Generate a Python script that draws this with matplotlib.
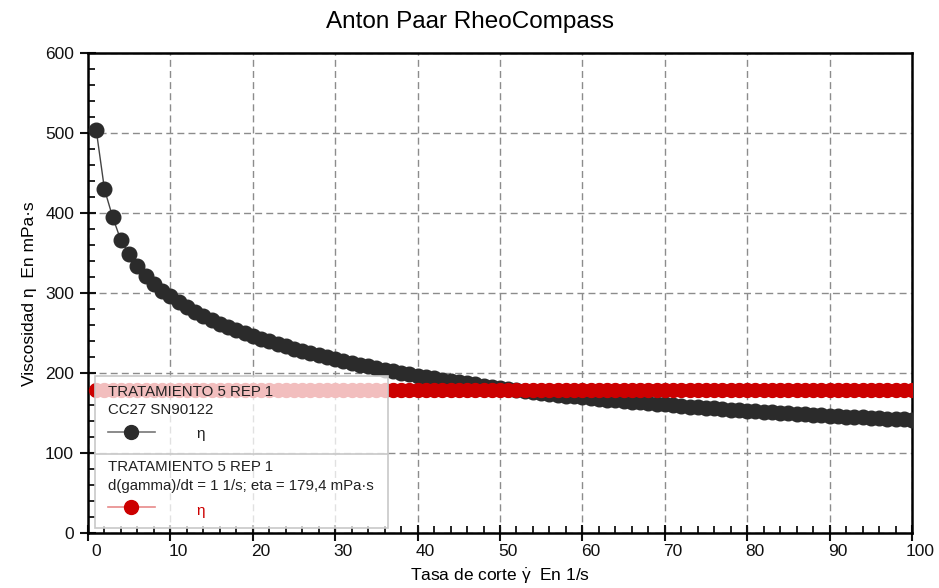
import numpy as np
import matplotlib
matplotlib.use("Agg")
from matplotlib import pyplot as plt
from matplotlib.patches import Rectangle
from matplotlib.transforms import ScaledTranslation
from matplotlib.ticker import MultipleLocator

plt.rcParams['font.family'] = ['Liberation Sans', 'DejaVu Sans']
plt.rcParams['mathtext.fontset'] = 'custom'
plt.rcParams['mathtext.rm'] = 'Liberation Sans'
plt.rcParams['mathtext.it'] = 'Liberation Sans:italic'

# shear rate sweep, 1 point per 1/s
shear_rate = list(range(1, 101))

# viscosity of the sweep (mPa·s)
eta_sweep = [
    504, 430, 395, 366, 349, 334, 321, 311, 303, 297,
    289.5, 282.9, 276.9, 271.5, 266.5, 262.0, 257.7, 253.7, 249.9, 247.0,
    243.3, 239.8, 236.6, 233.5, 230.6, 227.8, 225.2, 222.7, 220.3, 218.0,
    215.5, 213.1, 210.8, 208.6, 206.5, 204.5, 202.5, 200.6, 198.8, 197.0,
    195.3, 193.6, 192.0, 190.4, 188.9, 187.5, 186.0, 184.7, 183.3, 182.0,
    180.7, 179.3, 178.1, 176.8, 175.6, 174.4, 173.3, 172.2, 171.1, 170.0,
    169.0, 168.0, 167.1, 166.2, 165.3, 164.4, 163.5, 162.7, 161.8, 161.0,
    160.1, 159.3, 158.4, 157.6, 156.8, 156.0, 155.2, 154.5, 153.7, 153.0,
    152.4, 151.7, 151.1, 150.5, 149.9, 149.3, 148.7, 148.1, 147.6, 147.0,
    146.5, 145.9, 145.4, 144.9, 144.4, 143.9, 143.4, 142.9, 142.5, 142.0,
]

# single-point result at d(gamma)/dt = 1 1/s
eta_fixed = 179.4
eta_const = [eta_fixed] * len(shear_rate)

legend_rows = ["TRATAMIENTO 5 REP 1", "CC27 SN90122",
               "TRATAMIENTO 5 REP 1",
               "d(gamma)/dt = 1 1/s; eta = 179,4 mPa·s"]

BLACK = '#2b2b2b'
RED = '#cc0000'

fig = plt.figure(figsize=(9.39, 5.88), dpi=100)
ax = fig.add_axes([88/939, (588-533.3)/588, 824/939, 480/588])

ax.plot(shear_rate, eta_sweep, '-', color='#444444', lw=1, marker='o',
        ms=10.5, mfc=BLACK, mec=BLACK, zorder=3)
ax.plot(shear_rate, eta_const, '-', color=RED, lw=1, marker='o',
        ms=10, mfc=RED, mec=RED, zorder=4)

ax.set_xlim(0, 100)
ax.set_ylim(0, 600)
ax.xaxis.set_major_locator(MultipleLocator(10))
ax.xaxis.set_minor_locator(MultipleLocator(2))
ax.yaxis.set_major_locator(MultipleLocator(100))
ax.yaxis.set_minor_locator(MultipleLocator(20))
ax.tick_params(which='major', direction='inout', length=12, width=1.5,
               labelsize=12.5, colors='#111111')
ax.tick_params(which='minor', direction='in', length=5, width=1.2)
ax.tick_params(axis='x', pad=2)
ax.tick_params(axis='y', pad=4)
for lab in ax.get_xticklabels():
    lab.set_transform(lab.get_transform() +
                      ScaledTranslation(8/100, 0, fig.dpi_scale_trans))
for sp in ax.spines.values():
    sp.set_linewidth(1.8)
    sp.set_color('black')

ax.grid(True, which='major', color='#8c8c8c', ls=(0, (5, 3)), lw=1)
ax.set_axisbelow(True)

ax.set_xlabel(r"Tasa de corte $\dot{\mathrm{\gamma}}$  En 1/s", fontsize=12.5,
              labelpad=5)
ax.set_ylabel("Viscosidad η  En mPa·s", fontsize=12.5, labelpad=6)
fig.suptitle("Anton Paar RheoCompass", fontsize=17.5, y=0.982)

# legend panel drawn by hand
def fx(px):
    return (px - 88) / 824

def fy(py):
    return (533.3 - py) / 480

tr = ax.transAxes
ax.add_patch(Rectangle((fx(95), fy(528)), fx(388) - fx(95), fy(376) - fy(528),
                       transform=tr, facecolor=(1, 1, 1, 0.75),
                       edgecolor='#c8c8c8', lw=1.2, zorder=5))
ax.plot([fx(95), fx(388)], [fy(454), fy(454)], color='#c8c8c8', lw=1.2,
        transform=tr, zorder=6)

txt = dict(transform=tr, fontsize=10.8, color='#222222', va='center',
           ha='left', zorder=7)
ax.text(fx(108), fy(392), legend_rows[0], **txt)
ax.text(fx(108), fy(410), legend_rows[1], **txt)
ax.text(fx(108), fy(467), legend_rows[2], **txt)
ax.text(fx(108), fy(486), legend_rows[3], **txt)

ax.plot([fx(108), fx(155)], [fy(432), fy(432)], color='#777777', lw=1.2,
        transform=tr, zorder=7)
ax.plot([fx(131)], [fy(432)], 'o', ms=10, color=BLACK, transform=tr,
        zorder=8)
ax.text(fx(196), fy(434), "η", transform=tr, fontsize=11, color='#222222',
        va='center', ha='left', zorder=7)

ax.plot([fx(108), fx(155)], [fy(507), fy(507)], color='#e88a8a', lw=1.2,
        transform=tr, zorder=7)
ax.plot([fx(131)], [fy(507)], 'o', ms=10, color=RED, transform=tr,
        zorder=8)
ax.text(fx(196), fy(511), "η", transform=tr, fontsize=11, color=RED,
        va='center', ha='left', zorder=7)

fig.savefig("out.png", dpi=100)
